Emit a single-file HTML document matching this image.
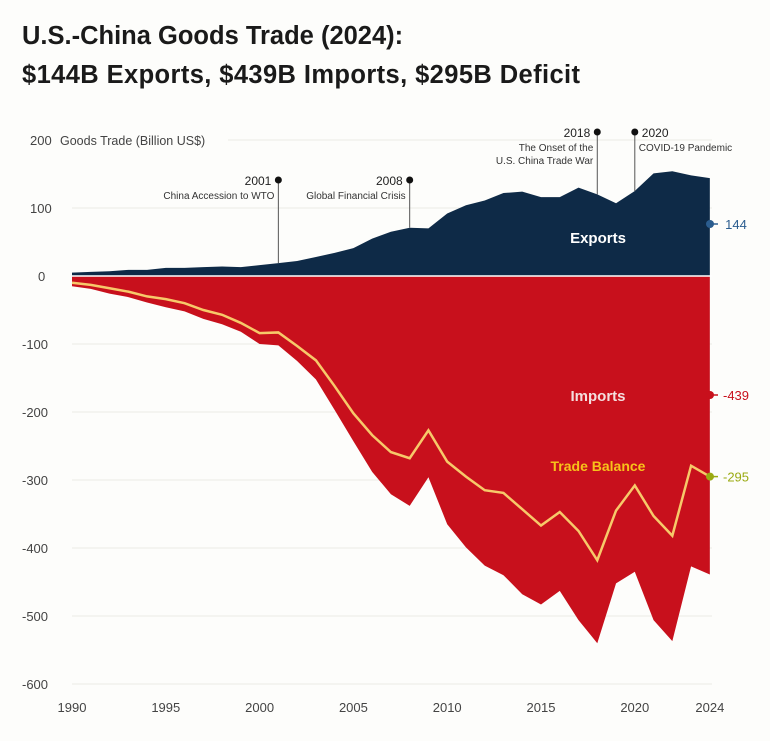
<!DOCTYPE html>
<html><head><meta charset="utf-8"><style>
body{margin:0;background:#fdfdfb;width:770px;height:736px;overflow:hidden;font-family:"Liberation Sans",sans-serif}
</style></head><body>
<svg width="770" height="736" font-family="Liberation Sans, sans-serif">
<text x="22" y="44" font-size="25.5" font-weight="bold" fill="#1a1a1a">U.S.-China Goods Trade (2024):</text>
<text x="22" y="83" font-size="25.5" font-weight="bold" fill="#1a1a1a" textLength="558">$144B Exports, $439B Imports, $295B Deficit</text>
<g id="grid"></g><g id="marks"></g><g id="ann"></g>
</svg>
<script>
const years=[];for(let y=1990;y<=2024;y++)years.push(y);
const exportsData=[5,6,7,9,9,12,12,13,14,13,16,19,22,28,34,41,55,65,71,70,92,104,111,122,124,116,116,130,120,107,125,151,154,148,144];
const importsData=[-15,-19,-26,-31,-39,-46,-52,-63,-71,-82,-100,-102,-125,-152,-197,-243,-288,-321,-338,-296,-365,-399,-426,-440,-468,-483,-463,-506,-540,-452,-435,-506,-537,-427,-439];
const balanceData=[-10,-13,-18,-23,-30,-34,-40,-50,-57,-69,-84,-83,-103,-124,-162,-202,-234,-259,-268,-227,-273,-295,-315,-319,-343,-367,-347,-375,-418,-345,-308,-353,-382,-279,-295];
const yTicks=[200,100,0,-100,-200,-300,-400,-500,-600];
const xTicks=[1990,1995,2000,2005,2010,2015,2020,2024];
const events=[{year:2001,label:"2001",sub:["China Accession to WTO"],top:180,side:"l"},{year:2008,label:"2008",sub:["Global Financial Crisis"],top:180,side:"l"},{year:2018,label:"2018",sub:["The Onset of the","U.S. China Trade War"],top:132,side:"l"},{year:2020,label:"2020",sub:["COVID-19 Pandemic"],top:132,side:"r"}];
const X=y=>72+(y-1990)*18.76, Y=v=>276-v*0.68;
const NS="http://www.w3.org/2000/svg";
function mk(t,a,p,name){const e=document.createElementNS(NS,t);for(const k in a)e.setAttribute(k,a[k]);p.appendChild(e);return e;}
const G=document.getElementById('grid'),M=document.getElementById('marks'),A=document.getElementById('ann');
yTicks.forEach(v=>{
 if(v!==200){const l=mk('line',{x1:72,x2:712,y1:Y(v),y2:Y(v),stroke:'#ebebe6','stroke-width':1},G,'gridline');}
 const t=mk('text',{x:v===200?30:(v===0?38:(v>0?30:22)),y:Y(v)+5,'font-size':13,fill:'#444'},G,'y-tick-label');t.textContent=v;
});
mk('line',{x1:228,x2:712,y1:Y(200),y2:Y(200),stroke:'#ebebe6'},G,'gridline');
const yt=mk('text',{x:60,y:Y(200)+5,'font-size':12.5,fill:'#444'},G,'y-axis-title');yt.textContent='Goods Trade (Billion US$)';
xTicks.forEach(y=>{const t=mk('text',{x:X(y),y:712,'font-size':13,fill:'#444','text-anchor':'middle'},G,'x-tick-label');t.textContent=y;});
function area(d,fill,name){let s=`M${X(1990)},${Y(0)}`;d.forEach((v,i)=>s+=`L${X(years[i])},${Y(v)}`);s+=`L${X(2024)},${Y(0)}Z`;mk('path',{d:s,fill:fill},M,name);}
area(exportsData,'#0e2a47','exports-area');
area(importsData,'#c8101c','imports-area');
mk('line',{x1:72,x2:712,y1:Y(0),y2:Y(0),stroke:'#fff','stroke-width':1.5},M,'zero-line');
let s='';balanceData.forEach((v,i)=>s+=(i?'L':'M')+X(years[i])+','+Y(v));
mk('path',{d:s,fill:'none',stroke:'#f7c96a','stroke-width':2.5},M,'trade-balance-line');
function lab(x,y,t,c,n,sz,w){const e=mk('text',{x:x,y:y,'font-size':sz||15,'font-weight':w||'bold',fill:c,'text-anchor':'middle'},A,n);e.textContent=t;}
const exLabY=243, imLabY=401;
lab(598,exLabY,'Exports','#fff','exports-label');
lab(598,imLabY,'Imports','#f4dede','imports-label');
lab(598,471,'Trade Balance','#f7c21a','trade-balance-label',14);
function end(y,v,c,n){mk('circle',{cx:710,cy:y,r:4,fill:c},A,n+'-dot');mk('line',{x1:710,x2:718,y1:y,y2:y,stroke:c,'stroke-width':1.5},A,n+'-tick');lab(736,y+5,v,c,n+'-value',13,'normal');}
end(exLabY-19,exportsData[34],'#2b5d8f','exports-end');end(imLabY-6,importsData[34],'#c8101c','imports-end');end(Y(balanceData[34]),balanceData[34],'#9aaa12','balance-end');
events.forEach(ev=>{const x=X(ev.year),i=years.indexOf(ev.year);
 mk('line',{x1:x,x2:x,y1:ev.top,y2:Y(exportsData[i]),stroke:'#555','stroke-width':1},A,'event-line');
 mk('circle',{cx:x,cy:ev.top,r:3.5,fill:'#111'},A,'event-dot');
 const anc=ev.side==='l'?'end':'start',dx=ev.side==='l'?-7:7;
 const t=mk('text',{x:x+dx,y:ev.top+5,'font-size':12,fill:'#222','text-anchor':anc},A,'event-year');t.textContent=ev.label;
 ev.sub.forEach((s,k)=>{const u=mk('text',{x:x+(ev.side==='l'?-4:4),y:ev.top+19+k*13,'font-size':10,fill:'#333','text-anchor':anc},A,'event-label');u.textContent=s;});
});
</script>
</body></html>
